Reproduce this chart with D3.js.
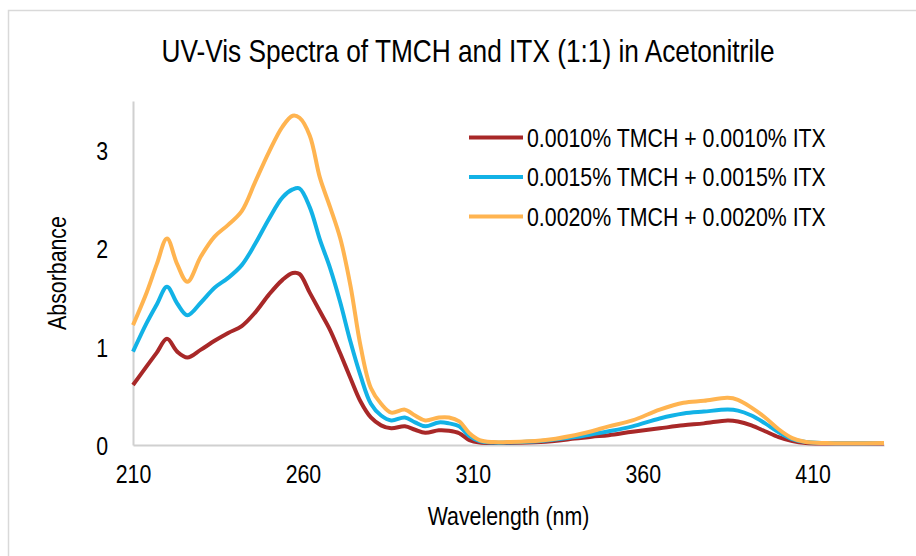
<!DOCTYPE html>
<html>
<head>
<meta charset="utf-8">
<script src="https://cdn.jsdelivr.net/npm/d3@7"></script>
<style>
  body { margin: 0; background: #fff; }
  text { font-family: "Liberation Sans", Arial, sans-serif; fill: #000; }
</style>
</head>
<body>
<div id="grafica"></div>
<script>
// longitudes de onda (nm)
let wavelengths = [210, 214, 217, 220, 223, 226, 230, 234, 238, 242, 246, 250, 254, 257, 259, 262, 265, 268, 271, 274, 277, 280, 283, 286, 290, 293, 296, 300, 303, 306, 309, 312, 316, 320, 330, 340, 345, 350, 357, 365, 372, 378, 385, 388, 392, 396, 400, 404, 408, 414, 431];

let abs0010 = [0.61, 0.80, 0.94, 1.08, 0.95, 0.89, 0.97, 1.06, 1.14, 1.21, 1.35, 1.53, 1.68, 1.75, 1.74, 1.55, 1.36, 1.17, 0.93, 0.68, 0.44, 0.28, 0.20, 0.17, 0.19, 0.155, 0.125, 0.15, 0.145, 0.12, 0.05, 0.025, 0.02, 0.02, 0.03, 0.065, 0.085, 0.10, 0.135, 0.17, 0.20, 0.22, 0.25, 0.24, 0.20, 0.14, 0.08, 0.04, 0.02, 0.015, 0.015];
let abs0015 = [0.95, 1.24, 1.43, 1.61, 1.44, 1.32, 1.45, 1.60, 1.70, 1.83, 2.05, 2.30, 2.52, 2.60, 2.61, 2.42, 2.09, 1.80, 1.45, 1.05, 0.70, 0.42, 0.30, 0.25, 0.28, 0.23, 0.19, 0.23, 0.22, 0.19, 0.09, 0.04, 0.025, 0.025, 0.04, 0.08, 0.11, 0.14, 0.19, 0.27, 0.32, 0.34, 0.36, 0.35, 0.30, 0.22, 0.13, 0.06, 0.03, 0.02, 0.02];
let abs0020 = [1.22, 1.55, 1.84, 2.10, 1.84, 1.66, 1.92, 2.12, 2.24, 2.38, 2.68, 2.98, 3.24, 3.35, 3.33, 3.15, 2.72, 2.42, 2.10, 1.62, 1.00, 0.58, 0.42, 0.33, 0.36, 0.30, 0.25, 0.28, 0.28, 0.24, 0.12, 0.05, 0.03, 0.03, 0.045, 0.10, 0.14, 0.19, 0.25, 0.36, 0.43, 0.45, 0.48, 0.46, 0.38, 0.28, 0.16, 0.07, 0.03, 0.02, 0.02];

let seriesNames = ["0.0010% TMCH + 0.0010% ITX", "0.0015% TMCH + 0.0015% ITX", "0.0020% TMCH + 0.0020% ITX"];
let seriesColors = ["#a82828", "#12b2e6", "#ffb450"];
let xTicks = [210, 260, 310, 360, 410];
let yTicks = [0, 1, 2, 3];

let series = [abs0010, abs0015, abs0020].map((vals, i) => {
  return {
    nombre: seriesNames[i],
    color: seriesColors[i],
    puntos: vals.map((v, j) => ({ x: wavelengths[j], y: v })),
  };
});

let W = 916, H = 556;
let margin = { top: 101, right: 32, bottom: 111, left: 133 };
let width = W - margin.left - margin.right;
let height = H - margin.top - margin.bottom;

let svg = d3
  .select("#grafica")
  .append("svg")
  .attr("width", W)
  .attr("height", H);

// borde del area del grafico
svg
  .append("rect")
  .attr("x", 8.5)
  .attr("y", 10.5)
  .attr("width", W)
  .attr("height", H)
  .attr("fill", "none")
  .attr("stroke", "#d9d9d9")
  .attr("stroke-width", 1.5);

let g = svg
  .append("g")
  .attr("transform", "translate(" + margin.left + "," + margin.top + ")");

let x = d3.scaleLinear().domain([210, 431]).range([0, width]);
let y = d3.scaleLinear().domain([0, 3.5]).range([height, 0]);

// ejes
let ejeX = g
  .append("g")
  .attr("transform", "translate(0," + height + ")")
  .call(d3.axisBottom(x).tickValues(xTicks).tickSize(0).tickPadding(20).tickFormat(d3.format("d")));
let ejeY = g
  .append("g")
  .call(d3.axisLeft(y).tickValues(yTicks).tickSize(0).tickPadding(25).tickFormat(d3.format("d")));

[ejeX, ejeY].forEach((e) => {
  e.select(".domain").attr("stroke", "#d0d0d0").attr("stroke-width", 2);
  e.selectAll("text")
    .attr("font-size", "26px")
    .attr("font-family", null)
    .attr("fill", "#000");
});
ejeY.selectAll("text").attr("dy", "0.36em");

// curvas
let linea = d3
  .line()
  .x((d) => x(d.x))
  .y((d) => y(d.y))
  .curve(d3.curveCatmullRom.alpha(0.5));

g.selectAll("path.serie")
  .data(series)
  .enter()
  .append("path")
  .attr("class", "serie")
  .attr("d", (d) => linea(d.puntos))
  .attr("fill", "none")
  .attr("stroke", (d) => d.color)
  .attr("stroke-width", 4)
  .attr("stroke-linejoin", "round");

// leyenda
let leyenda = svg
  .selectAll("g.leyenda")
  .data(series)
  .enter()
  .append("g")
  .attr("class", "leyenda")
  .attr("transform", (d, i) => "translate(469," + (137.5 + i * 39.5) + ")");

leyenda
  .append("line")
  .attr("x1", 0)
  .attr("x2", 54)
  .attr("stroke", (d) => d.color)
  .attr("stroke-width", 4);

leyenda
  .append("text")
  .attr("x", 58)
  .attr("y", 9)
  .attr("font-size", "26px")
  .text((d) => d.nombre);

// titulos
svg
  .append("text")
  .attr("x", 468)
  .attr("y", 62)
  .attr("text-anchor", "middle")
  .attr("font-size", "32px")
  .text("UV-Vis Spectra of TMCH and ITX (1:1) in Acetonitrile");

svg
  .append("text")
  .attr("x", margin.left + width / 2)
  .attr("y", 525)
  .attr("text-anchor", "middle")
  .attr("font-size", "26px")
  .text("Wavelength (nm)");

svg
  .append("text")
  .attr("transform", "translate(66,273) rotate(-90)")
  .attr("text-anchor", "middle")
  .attr("font-size", "26px")
  .text("Absorbance");

// no hay fuente estrecha instalada: se comprime el texto a lo ancho
svg.selectAll("text").each(function () {
  let len = this.getComputedTextLength();
  d3.select(this)
    .attr("textLength", len * 0.82)
    .attr("lengthAdjust", "spacingAndGlyphs");
});
</script>
</body>
</html>
